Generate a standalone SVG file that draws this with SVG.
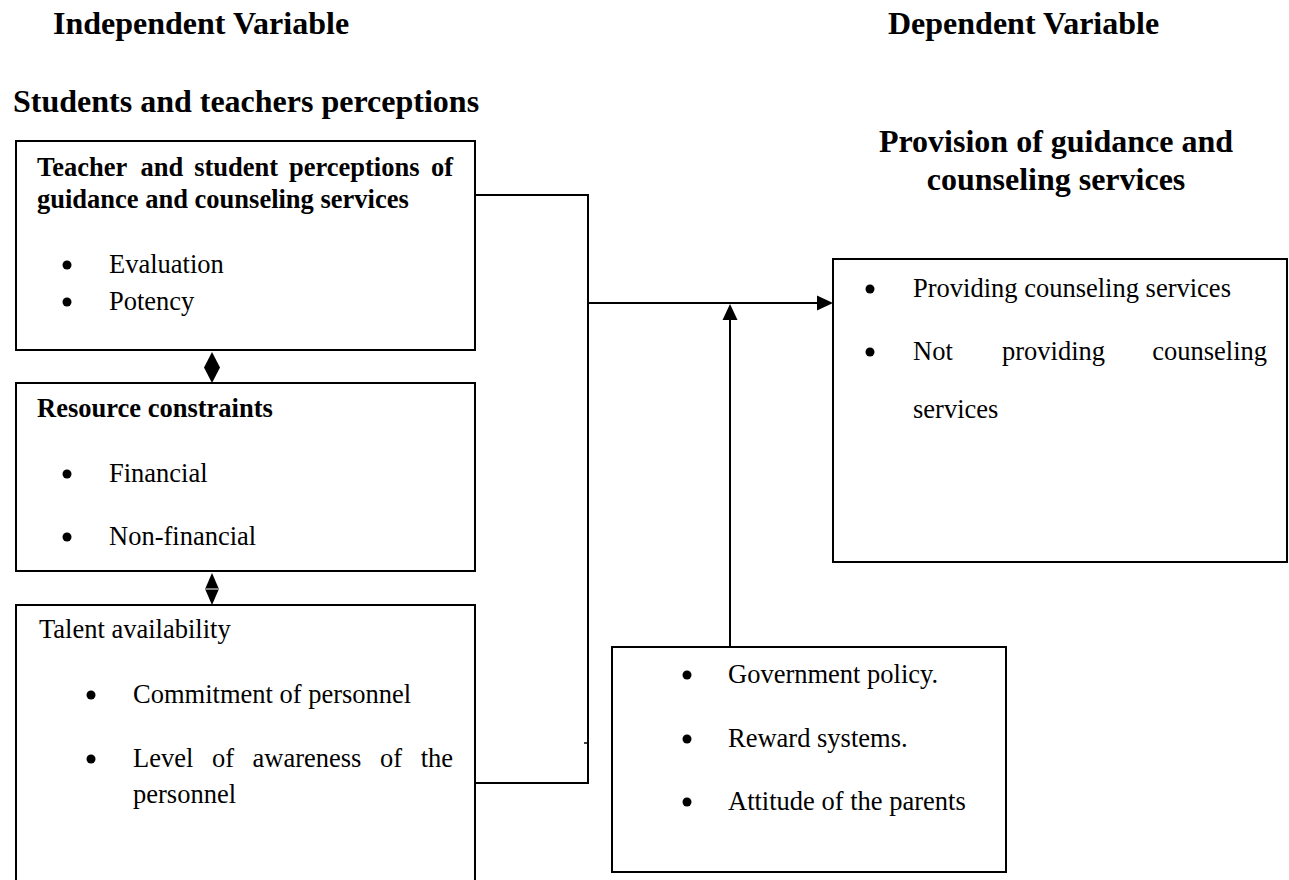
<svg xmlns="http://www.w3.org/2000/svg" width="1289" height="880" viewBox="0 0 1289 880">
<style>
text{font-family:"Liberation Serif","Times New Roman",serif;fill:#000}
.h{font-size:32px;font-weight:bold}
.b{font-size:26.5px;font-weight:bold}
.t{font-size:26.5px}
.box{fill:#fff;stroke:#000;stroke-width:2}
.ln{fill:none;stroke:#000;stroke-width:2}
.dot{fill:#000}
</style>
<rect width="1289" height="880" fill="#fff"/>
<text class="h" x="53" y="34">Independent Variable</text>
<text class="h" x="888" y="34">Dependent Variable</text>
<text class="h" x="13" y="112">Students and teachers perceptions</text>
<text class="h" x="1056" y="152" text-anchor="middle">Provision of guidance and</text>
<text class="h" x="1056" y="190" text-anchor="middle">counseling services</text>

<g id="connectors">
<polyline class="ln" points="475,195 588,195 588,783 475,783"/>
<line x1="584" y1="743" x2="588" y2="743" stroke="#000" stroke-width="1.5"/>
<line class="ln" x1="588" y1="303" x2="818" y2="303"/>
<path d="M817,295.5 L833,303 L817,310.5 z" fill="#000"/>
<line class="ln" x1="730" y1="647" x2="730" y2="318"/>
<path d="M722.5,320 L730,304 L737.5,320 z" fill="#000"/>
<path d="M212,352 L220,367.5 L212,383 L204,367.5 z" fill="#000"/>
<path d="M205.5,588 L212,573 L218.5,588 z" fill="#000"/>
<path d="M205.5,590 L212,605 L218.5,590 z" fill="#000"/>
<line x1="205" y1="589" x2="219" y2="589" stroke="#000" stroke-width="1"/>
</g>

<g id="node-perceptions">
<rect class="box" x="16" y="141" width="459" height="209"/>
<text class="b" y="176"><tspan x="37">Teacher</tspan><tspan x="140.6">and</tspan><tspan x="194.2">student</tspan><tspan x="289">perceptions</tspan><tspan x="453" text-anchor="end">of</tspan></text>
<text class="b" x="37" y="208">guidance and counseling services</text>
<circle class="dot" cx="67" cy="265" r="4.5"/>
<text class="t" x="109" y="273">Evaluation</text>
<circle class="dot" cx="67" cy="302" r="4.5"/>
<text class="t" x="109" y="310">Potency</text>
</g>

<g id="node-resources">
<rect class="box" x="16" y="383" width="459" height="188"/>
<text class="b" x="37" y="417">Resource constraints</text>
<circle class="dot" cx="67" cy="474" r="4.5"/>
<text class="t" x="109" y="482">Financial</text>
<circle class="dot" cx="67" cy="537" r="4.5"/>
<text class="t" x="109" y="545">Non-financial</text>
</g>

<g id="node-talent">
<rect class="box" x="16" y="605" width="459" height="290"/>
<text class="t" x="39" y="638">Talent availability</text>
<circle class="dot" cx="91" cy="695" r="4.5"/>
<text class="t" x="133" y="703">Commitment of personnel</text>
<circle class="dot" cx="91" cy="759" r="4.5"/>
<text class="t" y="767"><tspan x="133">Level</tspan><tspan x="211.9">of</tspan><tspan x="252.5">awareness</tspan><tspan x="380">of</tspan><tspan x="453" text-anchor="end">the</tspan></text>
<text class="t" x="133" y="803">personnel</text>
</g>

<g id="node-provision">
<rect class="box" x="833" y="259" width="454" height="303"/>
<circle class="dot" cx="870" cy="289" r="4.5"/>
<text class="t" x="913" y="297">Providing counseling services</text>
<circle class="dot" cx="870" cy="352" r="4.5"/>
<text class="t" y="360"><tspan x="913">Not</tspan><tspan x="1002">providing</tspan><tspan x="1267" text-anchor="end">counseling</tspan></text>
<text class="t" x="913" y="418">services</text>
</g>

<g id="node-moderators">
<rect class="box" x="612" y="647" width="394" height="225"/>
<circle class="dot" cx="687" cy="675" r="4.5"/>
<text class="t" x="728" y="683">Government policy.</text>
<circle class="dot" cx="687" cy="739" r="4.5"/>
<text class="t" x="728" y="747">Reward systems.</text>
<circle class="dot" cx="687" cy="802" r="4.5"/>
<text class="t" x="728" y="810">Attitude of the parents</text>
</g>
</svg>
